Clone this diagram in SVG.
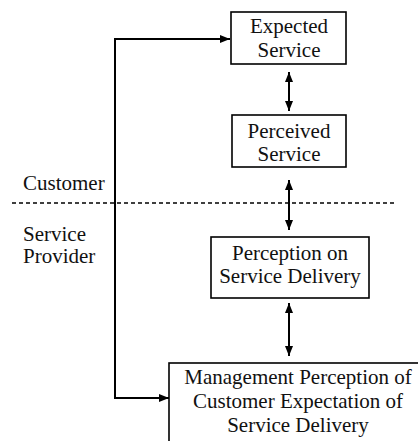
<svg xmlns="http://www.w3.org/2000/svg" width="418" height="441" viewBox="0 0 418 441">
  <defs>
    <marker id="ah" viewBox="0 0 10 10" refX="10" refY="5" markerWidth="10" markerHeight="10" markerUnits="userSpaceOnUse" orient="auto-start-reverse">
      <path d="M0,1 L10,5 L0,9 z" fill="#000"/>
    </marker>
    <style>
      .box { fill: #fff; stroke: #000; stroke-width: 1.6; }
      .t { font-family: "Liberation Serif", "Times New Roman", serif; font-size: 21px; fill: #111; }
      .c { text-anchor: middle; }
      .conn { fill: none; stroke: #000; stroke-width: 2; }
      .dash { fill: none; stroke: #000; stroke-width: 1.3; stroke-dasharray: 4 3; }
    </style>
  </defs>
  <rect width="418" height="441" fill="#fff"/>

  <g id="labels">
    <text class="t" x="23" y="190">Customer</text>
    <text class="t" x="23" y="241">Service</text>
    <text class="t" x="23" y="263">Provider</text>
  </g>

  <g id="connectors">
    <line class="dash" x1="12" y1="203" x2="396" y2="203"/>
    <path class="conn" d="M230,39 H115 V398 H169" marker-start="url(#ah)" marker-end="url(#ah)"/>
    <line class="conn" x1="289" y1="72" x2="289" y2="111" marker-start="url(#ah)" marker-end="url(#ah)"/>
    <line class="conn" x1="289" y1="180" x2="289" y2="230" marker-start="url(#ah)" marker-end="url(#ah)"/>
    <line class="conn" x1="289" y1="303" x2="289" y2="356" marker-start="url(#ah)" marker-end="url(#ah)"/>
  </g>

  <g id="expected">
    <rect class="box" x="231" y="12" width="115" height="52"/>
    <text class="t c" x="289" y="33">Expected</text>
    <text class="t c" x="289" y="57">Service</text>
  </g>

  <g id="perceived">
    <rect class="box" x="232" y="115" width="114" height="52"/>
    <text class="t c" x="289" y="138">Perceived</text>
    <text class="t c" x="289" y="161">Service</text>
  </g>

  <g id="perception">
    <rect class="box" x="211" y="237" width="158" height="61"/>
    <text class="t c" x="290" y="260">Perception on</text>
    <text class="t c" x="290" y="283">Service Delivery</text>
  </g>

  <g id="management">
    <rect class="box" x="169" y="363" width="258" height="82"/>
    <text class="t c" x="298" y="384">Management Perception of</text>
    <text class="t c" x="298" y="408">Customer Expectation of</text>
    <text class="t c" x="298" y="432">Service Delivery</text>
  </g>
</svg>
